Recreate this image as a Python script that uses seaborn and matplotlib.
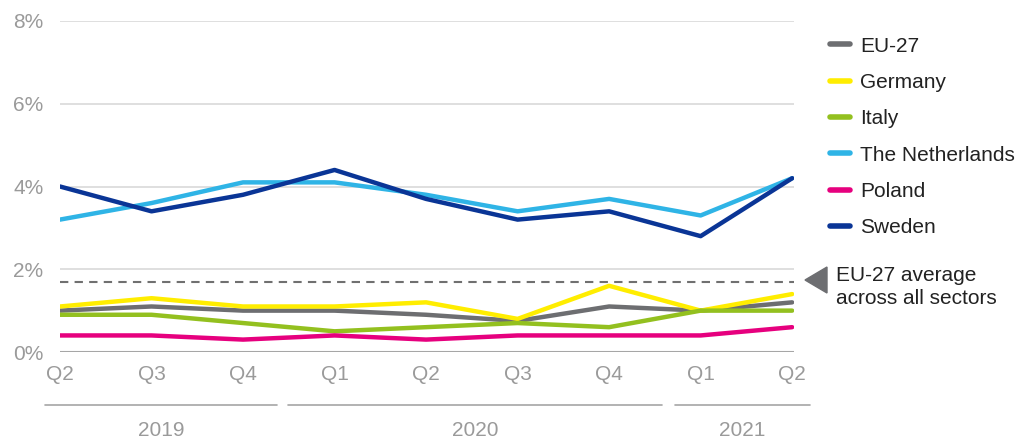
import pandas as pd
import matplotlib.pyplot as plt
import seaborn as sns
from matplotlib.patches import Polygon
from matplotlib.transforms import blended_transform_factory

# quarters from 2019 Q2 to 2021 Q2
quarters = ["Q2", "Q3", "Q4", "Q1", "Q2", "Q3", "Q4", "Q1", "Q2"]
years = ["2019", "2020", "2021"]

eu27 = [1.0, 1.1, 1.0, 1.0, 0.9, 0.75, 1.1, 1.0, 1.2]
germany = [1.1, 1.3, 1.1, 1.1, 1.2, 0.8, 1.6, 1.0, 1.4]
italy = [0.9, 0.9, 0.7, 0.5, 0.6, 0.7, 0.6, 1.0, 1.0]
netherlands = [3.2, 3.6, 4.1, 4.1, 3.8, 3.4, 3.7, 3.3, 4.2]
poland = [0.4, 0.4, 0.3, 0.4, 0.3, 0.4, 0.4, 0.4, 0.6]
sweden = [4.0, 3.4, 3.8, 4.4, 3.7, 3.2, 3.4, 2.8, 4.2]
eu_avg_all_sectors = 1.7

series = {
    "EU-27": eu27,
    "Germany": germany,
    "Italy": italy,
    "The Netherlands": netherlands,
    "Poland": poland,
    "Sweden": sweden,
}
colors = {
    "EU-27": "#6d6e71",
    "Germany": "#ffed00",
    "Italy": "#93c01f",
    "The Netherlands": "#2fb4e6",
    "Poland": "#e6007e",
    "Sweden": "#0a3596",
}

rows = []
for name, vals in series.items():
    for i, v in enumerate(vals):
        rows.append({"country": name, "idx": i, "value": v})
df = pd.DataFrame(rows)

sns.set_style("white")
plt.rcParams["font.family"] = ["Liberation Sans", "DejaVu Sans"]
FS = 15

fig = plt.figure(figsize=(10.32, 4.42), dpi=100)
ax = fig.add_axes([60 / 1032, 1 - 352 / 442, 734 / 1032, 331 / 442])

# grid
for y in [2, 4, 6, 8]:
    ax.axhline(y, color="#d9d9d9", lw=1.2, zorder=0)
ax.axhline(0, color="#a6a6a6", lw=1.5, zorder=0)
ax.axhline(eu_avg_all_sectors, color="#707070", lw=1.5, ls=(0, (4, 3)), zorder=1)

sns.lineplot(data=df, x="idx", y="value", hue="country", palette=colors,
             lw=3.2, ax=ax, legend=False, zorder=3)

ax.set_xlim(0, 8.02)
ax.set_ylim(0, 8)
ax.set_xticks(range(len(quarters)))
ax.set_xticklabels(quarters)
ax.set_yticks([0, 2, 4, 6, 8])
ax.set_yticklabels(["0%", "2%", "4%", "6%", "8%"])
ax.tick_params(axis="both", length=0, labelsize=FS, labelcolor="#9a9a9a")
ax.tick_params(axis="x", pad=9)
ax.tick_params(axis="y", pad=12)
ax.set_xlabel("")
ax.set_ylabel("")
for s in ax.spines.values():
    s.set_visible(False)

# year groups under the quarters
tr = blended_transform_factory(ax.transData, fig.transFigure)
spans = [(-0.16, 2.37), (2.49, 6.58), (6.72, 8.19)]
for (x0, x1), yr in zip(spans, years):
    ax.plot([x0, x1], [1 - 405 / 442] * 2, color="#a6a6a6", lw=1.2,
            transform=tr, clip_on=False)
    ax.text((x0 + x1) / 2, 1 - 431 / 442, yr, transform=tr, ha="center",
            va="center", fontsize=FS, color="#9a9a9a")

# legend
handles = [plt.Line2D([], [], color=colors[n], lw=4) for n in series]
fig.legend(handles, list(series), loc="upper left",
           bbox_to_anchor=(811 / 1032, 1 - 18 / 442), frameon=False,
           fontsize=FS, handlelength=0.95, handletextpad=0.5,
           labelspacing=0.83, labelcolor="#222222")

# marker + note for the dashed line
fig.add_artist(Polygon([[805 / 1032, 1 - 280 / 442], [827 / 1032, 1 - 267 / 442],
                        [827 / 1032, 1 - 293 / 442]], closed=True,
                       transform=fig.transFigure, color="#6d6e71"))
fig.text(836 / 1032, 1 - 287 / 442, "EU-27 average\nacross all sectors",
         ha="left", va="center", fontsize=FS, color="#222222", linespacing=1.3)

fig.savefig("out.png", dpi=100)
